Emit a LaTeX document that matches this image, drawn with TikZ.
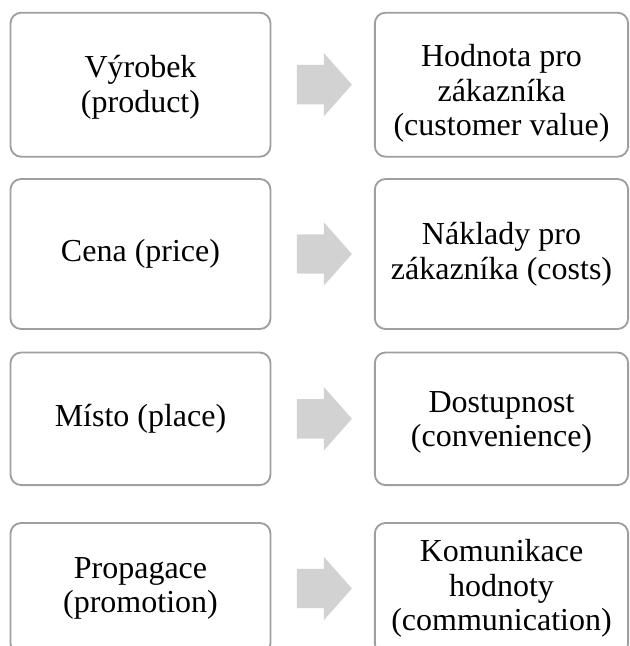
\documentclass[tikz,border=0pt]{standalone}
\usepackage{fontspec}
\setmainfont{Liberation Serif}
\usetikzlibrary{shapes.arrows,calc}
\begin{document}
\begin{tikzpicture}[x=0.75pt,y=-0.75pt,
  box/.style={draw=gray!75, line width=1.4pt, rounded corners=8pt, align=center, inner sep=0pt, font=\fontsize{24}{26}\selectfont},
  lbox/.style={box, minimum width=195pt},
  rbox/.style={box, minimum width=190pt},
  blockarrow/.style={single arrow, fill=gray!35, draw=none, inner xsep=0pt, inner ysep=14.6pt, minimum height=41.25pt, single arrow head extend=9pt, single arrow tip angle=97, xshift=-5.25pt}]
\useasboundingbox (0,0) rectangle (630,646);
% 4P
\node[lbox, minimum height=108pt] (vyrobek) at (140.5,84.7) {\rule{0pt}{21pt}Výrobek\\(product)};
\node[lbox, minimum height=112.5pt] (cena) at (140.5,254) {Cena (price)};
\node[lbox, minimum height=99.4pt] (misto) at (140.5,418.8) {Místo (place)};
\node[lbox, minimum height=98.3pt] (propagace) at (140.5,588.5) {Propagace\\(promotion)};
% 4C
\node[rbox, minimum height=108pt] (hodnota) at (501.5,84.7) {\rule{0pt}{30pt}Hodnota pro\\zákazníka\\(customer value)};
\node[rbox, minimum height=112.5pt] (naklady) at (501.5,254) {Náklady pro\\zákazníka (costs)};
\node[rbox, minimum height=99.4pt] (dostupnost) at (501.5,418.8) {\rule{0pt}{21pt}Dostupnost\\(convenience)};
\node[rbox, minimum height=98.3pt] (komunikace) at (501.5,588.5) {Komunikace\\hodnoty\\(communication)};
% sipky
\node[blockarrow] (a1) at ($(vyrobek.east)!0.5!(hodnota.west)$) {};
\node[blockarrow] (a2) at ($(cena.east)!0.5!(naklady.west)$) {};
\node[blockarrow] (a3) at ($(misto.east)!0.5!(dostupnost.west)$) {};
\node[blockarrow] (a4) at ($(propagace.east)!0.5!(komunikace.west)$) {};
\end{tikzpicture}
\end{document}
